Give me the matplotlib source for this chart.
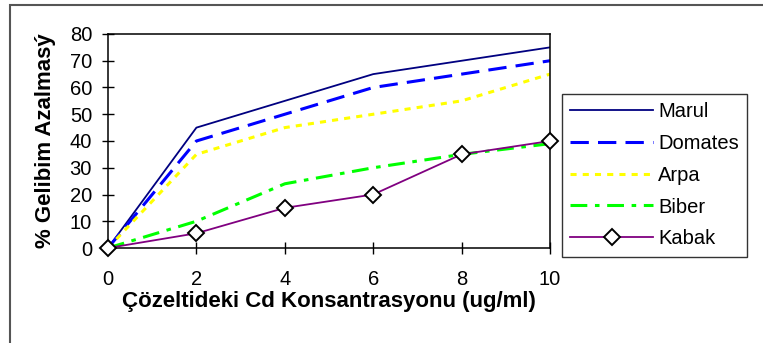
import matplotlib.pyplot as plt
from matplotlib.patches import Rectangle

plt.rcParams['font.family'] = ['Liberation Sans', 'DejaVu Sans']

# Cd concentration (ug/ml) and growth reduction (%) per plant
konsantrasyon = [0, 2, 4, 6, 8, 10]
marul = [0, 45, 55, 65, 70, 75]
domates = [0, 40, 50, 60, 65, 70]
arpa = [0, 35, 45, 50, 55, 65]
biber = [0, 10, 24, 30, 35, 39]
kabak = [0, 5.5, 15, 20, 35, 40]

fig = plt.figure(figsize=(7.63, 3.43), dpi=100)
ax = fig.add_axes([108 / 763, 95 / 343, 442 / 763, 214 / 343])

ax.plot(konsantrasyon, marul, color='#000080', lw=1.3, label='Marul')
ax.plot(konsantrasyon, domates, color='#0000FF', lw=2.2, dashes=(6, 3), label='Domates')
ax.plot(konsantrasyon, arpa, color='#FFFF00', lw=2.2, dashes=(2, 2), label='Arpa')
ax.plot(konsantrasyon, biber, color='#00FF00', lw=2.2, dashes=(5.5, 2.5, 1.5, 2.5), label='Biber')
ax.plot(konsantrasyon, kabak, color='#800080', lw=1.3, marker='D', markersize=8.5,
        markerfacecolor='white', markeredgecolor='black', markeredgewidth=1.4,
        label='Kabak', clip_on=False, zorder=5)

ax.set_xlim(0, 10)
ax.set_ylim(0, 80)
ax.set_xticks(range(0, 11, 2))
ax.set_yticks(range(0, 81, 10))
ax.tick_params(direction='inout', length=9, width=1, labelsize=14.5)
ax.tick_params(axis='x', pad=11)
ax.tick_params(axis='y', pad=7)
for s in ax.spines.values():
    s.set_linewidth(1.1)

ax.set_xlabel('Çözeltideki Cd Konsantrasyonu (ug/ml)', fontsize=16,
              fontweight='bold', labelpad=2)
ax.set_ylabel('% Gelibim Azalmasý', fontsize=16, fontweight='bold', labelpad=10)

leg = ax.legend(loc='upper left', bbox_to_anchor=(562 / 763, 1 - 94 / 343),
                bbox_transform=fig.transFigure, fontsize=14.5, frameon=True,
                fancybox=False, edgecolor='black', handlelength=4.1,
                handletextpad=0.25, labelspacing=0.63, borderpad=0.42,
                borderaxespad=0)
leg.get_frame().set_linewidth(1.0)

# outer chart border (top and left edges)
fig.patches.append(Rectangle((10 / 763, -0.1), 1.2, 1 - 5 / 343 + 0.1,
                             transform=fig.transFigure, fill=False,
                             edgecolor='#555555', lw=1.5))

fig.savefig('out.png', dpi=100)
